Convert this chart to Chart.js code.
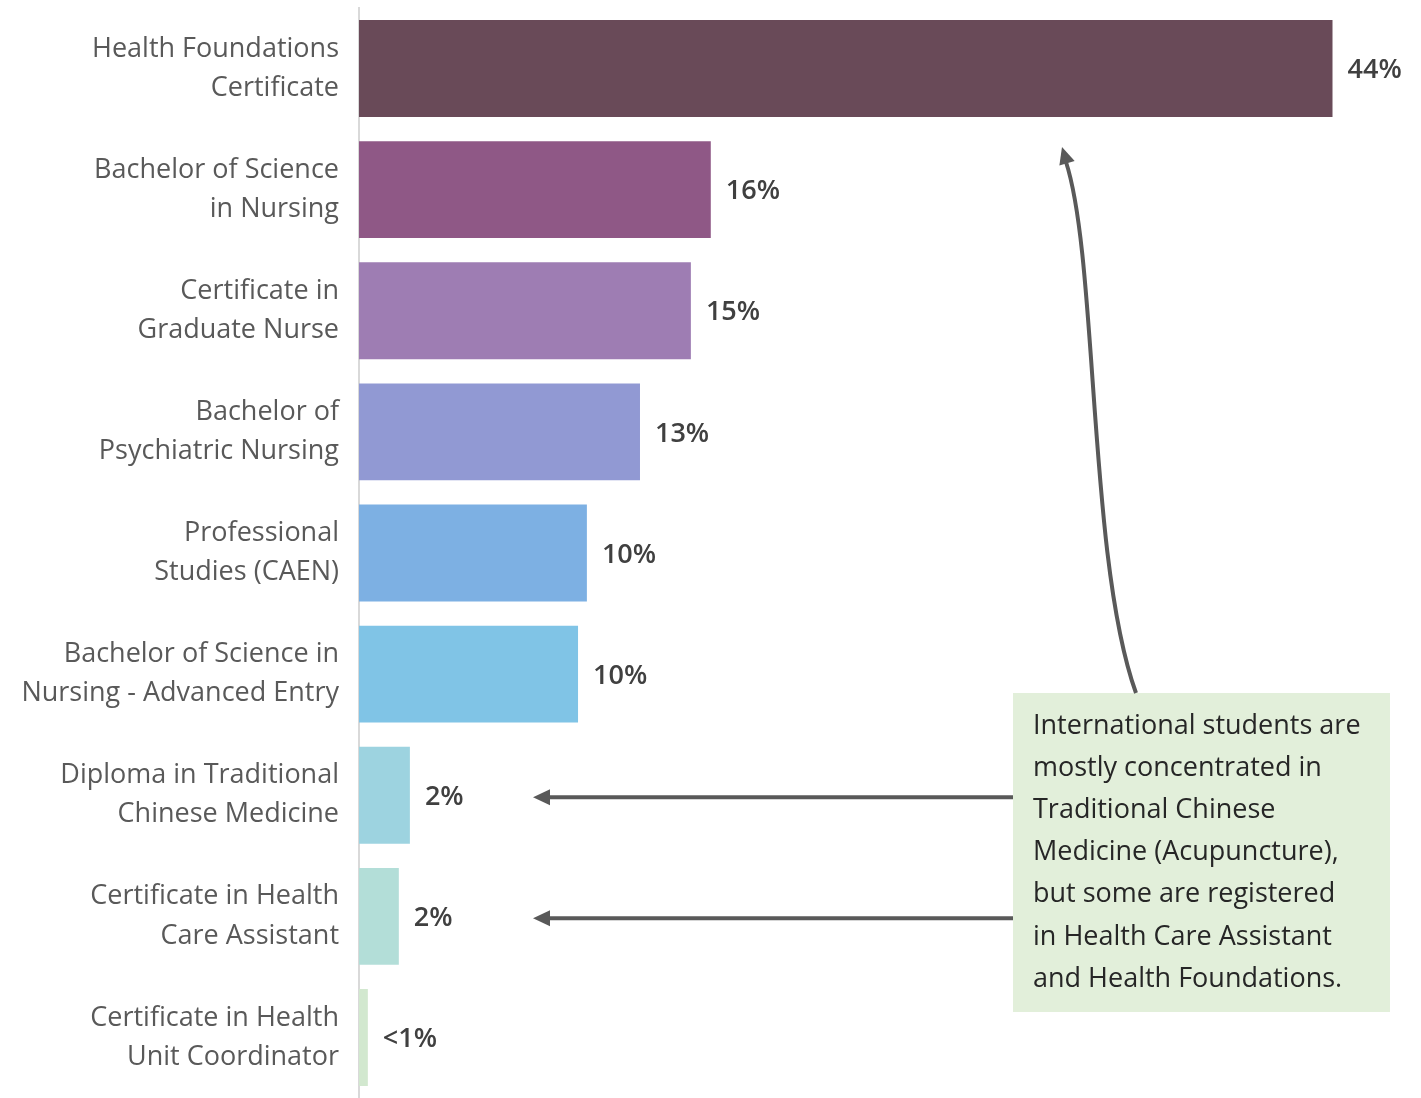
<!DOCTYPE html>
<html>
<head>
<meta charset="utf-8">
<script src="https://cdn.jsdelivr.net/npm/chart.js@4.4.1/dist/chart.umd.min.js"></script>
<style>
  body { margin: 0; background: #fff; }
  #wrap { width: 1421px; height: 1098px; position: relative; }
</style>
</head>
<body>
<div id="wrap"><canvas id="grafico-barras"></canvas></div>
<script>
// programas (rótulos em várias linhas)
const programas = [
    ['Health Foundations', 'Certificate'],
    ['Bachelor of Science', 'in Nursing'],
    ['Certificate in', 'Graduate Nurse'],
    ['Bachelor of', 'Psychiatric Nursing'],
    ['Professional', 'Studies (CAEN)'],
    ['Bachelor of Science in', 'Nursing - Advanced Entry'],
    ['Diploma in Traditional', 'Chinese Medicine'],
    ['Certificate in Health', 'Care Assistant'],
    ['Certificate in Health', 'Unit Coordinator']
];
const percentuais = [44, 15.9, 15.0, 12.7, 10.3, 9.9, 2.3, 1.8, 0.4];
const rotulos = ['44%', '16%', '15%', '13%', '10%', '10%', '2%', '2%', '<1%'];
const cores = ['#694a58', '#8f5886', '#9e7db3', '#9199d3', '#7db0e3', '#80c4e6', '#9dd3e0', '#b3ded8', '#d2e8cf'];
const nota = [
    'International students are',
    'mostly concentrated in',
    'Traditional Chinese',
    'Medicine (Acupuncture),',
    'but some are registered',
    'in Health Care Assistant',
    'and Health Foundations.'
];

const fonte = "'Open Sans', 'Noto Sans', sans-serif";

const rotulosBarras = {
    id: 'rotulosBarras',
    afterDatasetsDraw(chart) {
        const ctx = chart.ctx;
        const meta = chart.getDatasetMeta(0);
        ctx.save();
        ctx.font = '600 27px ' + fonte;
        ctx.fillStyle = '#404040';
        ctx.textBaseline = 'middle';
        ctx.textAlign = 'left';
        meta.data.forEach(function(bar, i) {
            ctx.fillText(rotulos[i], bar.x + 15, bar.y + 2);
        });
        ctx.restore();
    }
};

function seta(ctx, x, y, ang) {
    // ponta da seta em (x, y) apontando na direção ang
    const L = 17, W = 8;
    ctx.beginPath();
    ctx.moveTo(x, y);
    ctx.lineTo(x - L * Math.cos(ang) + W * Math.sin(ang), y - L * Math.sin(ang) - W * Math.cos(ang));
    ctx.lineTo(x - L * Math.cos(ang) - W * Math.sin(ang), y - L * Math.sin(ang) + W * Math.cos(ang));
    ctx.closePath();
    ctx.fill();
}

const anotacao = {
    id: 'anotacao',
    afterDraw(chart) {
        const ctx = chart.ctx;
        const meta = chart.getDatasetMeta(0);
        const bx = 1013, by = 693, bw = 377, bh = 319;
        ctx.save();
        ctx.fillStyle = '#e2efda';
        ctx.fillRect(bx, by, bw, bh);
        ctx.fillStyle = '#262626';
        ctx.font = '27px ' + fonte;
        ctx.textBaseline = 'middle';
        nota.forEach(function(linha, i) {
            ctx.fillText(linha, bx + 20, by + 33 + i * 42.2);
        });

        ctx.strokeStyle = '#595959';
        ctx.fillStyle = '#595959';
        ctx.lineWidth = 4;
        [6, 7].forEach(function(i) {
            const y = meta.data[i].y + 2;
            ctx.beginPath();
            ctx.moveTo(bx, y);
            ctx.lineTo(548, y);
            ctx.stroke();
            seta(ctx, 533, y, Math.PI);
        });

        // seta curva até a primeira barra
        const topo = meta.data[0].y + meta.data[0].height / 2;
        ctx.beginPath();
        ctx.moveTo(1136, by);
        ctx.bezierCurveTo(1088, 560, 1098, 260, 1066, topo + 45);
        ctx.stroke();
        seta(ctx, 1062, topo + 30, -Math.PI / 2 - 0.3);
        ctx.restore();
    }
};

const ctx = document.getElementById('grafico-barras').getContext('2d');
const MyChart = new Chart(ctx, {
    type: 'bar',
    data: {
        labels: programas,
        datasets: [{
            data: percentuais,
            backgroundColor: cores,
            borderWidth: 0,
            barPercentage: 1,
            categoryPercentage: 0.8
        }]
    },
    options: {
        indexAxis: 'y',
        responsive: true,
        maintainAspectRatio: false,
        animation: false,
        layout: {
            padding: { top: 8, right: 0, bottom: 0, left: 0 }
        },
        plugins: {
            legend: { display: false },
            tooltip: { enabled: false }
        },
        scales: {
            x: {
                display: false,
                min: 0,
                max: 48
            },
            y: {
                grid: { display: false },
                border: { display: true, color: '#d9d9d9', width: 2 },
                ticks: {
                    color: '#595959',
                    padding: 12,
                    font: { family: fonte, size: 27, lineHeight: 1.45 }
                },
                afterFit: function(scale) {
                    scale.width = 359;
                    scale.paddingTop = 0;
                    scale.paddingBottom = 0;
                }
            }
        }
    },
    plugins: [rotulosBarras, anotacao]
});
</script>
</body>
</html>
